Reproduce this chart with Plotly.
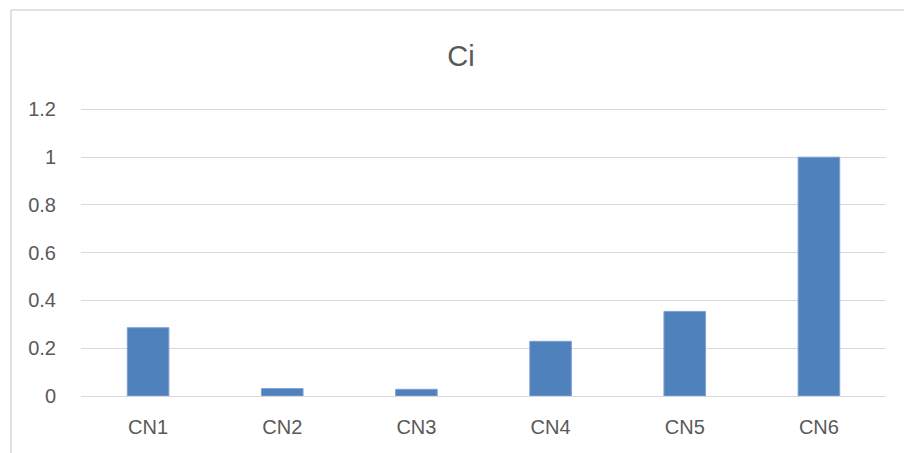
import plotly.graph_objects as go

categories = ["CN1", "CN2", "CN3", "CN4", "CN5", "CN6"]
ci_values = [0.286, 0.031, 0.028, 0.229, 0.354, 1.0]
y_ticks = [0, 0.2, 0.4, 0.6, 0.8, 1, 1.2]
y_tick_labels = ["0", "0.2", "0.4", "0.6", "0.8", "1", "1.2"]

W, H = 904, 453
L, R, T, B = 81, 18, 107, 57
pw, ph = W - L - R, H - T - B

fig = go.Figure(go.Bar(
    x=categories, y=ci_values,
    marker=dict(color="#4F81BD", line=dict(color="#7EA1D2", width=1)),
    width=0.31,
))

txt = "#595959"
font_family = "Liberation Sans, Arial, sans-serif"

fig.update_layout(
    width=W, height=H,
    margin=dict(l=L, r=R, t=T, b=B, pad=0),
    paper_bgcolor="white", plot_bgcolor="white",
    showlegend=False,
    title=dict(text="Ci", x=461 / W, xanchor="center",
               y=1 - 56 / H, yanchor="middle", yref="container",
               font=dict(family=font_family, size=29, color=txt)),
    font=dict(family=font_family, size=20, color=txt),
)
fig.update_xaxes(
    showgrid=False, zeroline=False, showline=False,
    ticks="outside", ticklen=13, tickcolor="rgba(0,0,0,0)",
    tickfont=dict(size=20, color=txt),
)
fig.update_yaxes(
    range=[0, 1.21], tickvals=y_ticks, ticktext=y_tick_labels,
    showgrid=True, gridcolor="#D9D9D9", gridwidth=1.3,
    zeroline=True, zerolinecolor="#D9D9D9", zerolinewidth=1.3,
    showline=False,
    ticks="outside", ticklen=20, tickcolor="rgba(0,0,0,0)",
    tickfont=dict(size=20, color=txt),
)

# outer chart border (left and top visible)
bx = (11 - L) / pw
by = (H - B - 10) / ph
fig.add_shape(type="line", xref="paper", yref="paper", x0=bx, x1=bx, y0=by, y1=-0.5,
              line=dict(color="#D9D9D9", width=1.5))
fig.add_shape(type="line", xref="paper", yref="paper", x0=bx, x1=1.5, y0=by, y1=by,
              line=dict(color="#D9D9D9", width=1.5))

fig.write_html("out.html")
